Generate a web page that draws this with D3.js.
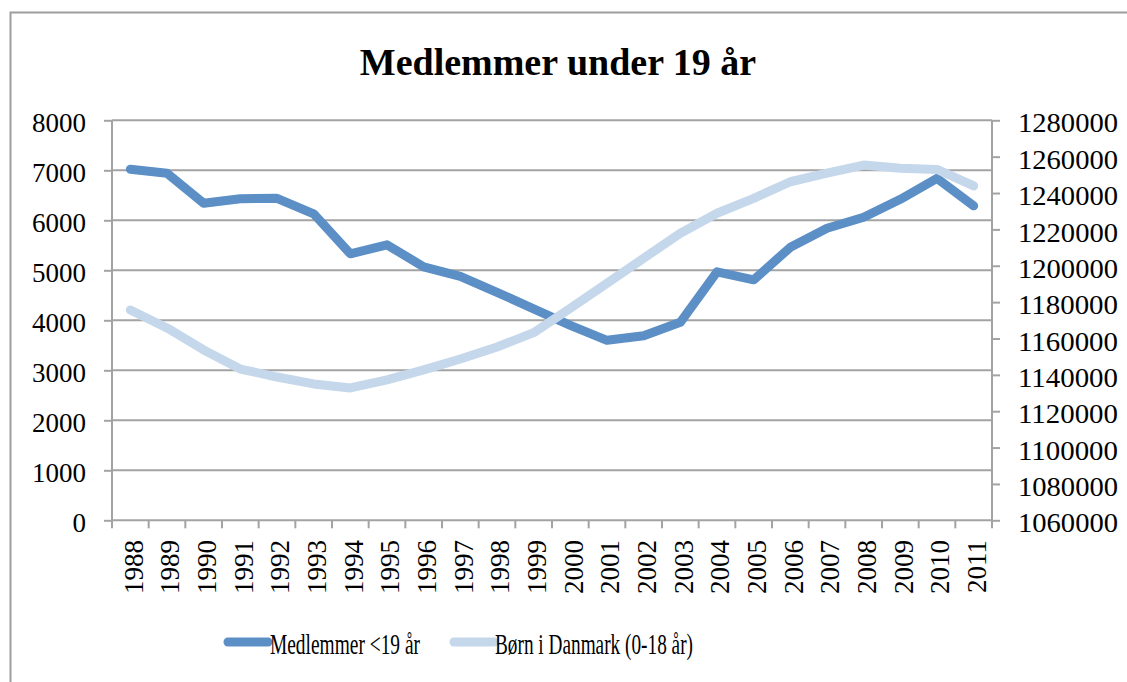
<!DOCTYPE html>
<html>
<head>
<meta charset="utf-8">
<script src="https://cdn.jsdelivr.net/npm/d3@7"></script>
<style>
  html, body { margin: 0; padding: 0; background: #fff; }
  svg { display: block; }
</style>
</head>
<body>
<svg id="chart" width="1127" height="682"></svg>
<script>
// data
const years = [1988, 1989, 1990, 1991, 1992, 1993, 1994, 1995, 1996, 1997, 1998, 1999,
  2000, 2001, 2002, 2003, 2004, 2005, 2006, 2007, 2008, 2009, 2010, 2011];
const members = [7020, 6940, 6340, 6430, 6440, 6130, 5330, 5510, 5070, 4880, 4560, 4230,
  3900, 3600, 3690, 3960, 4970, 4810, 5460, 5840, 6060, 6420, 6840, 6290];
const children = [1175700, 1165800, 1153700, 1143200, 1138800, 1135000, 1132800, 1137200,
  1142700, 1148700, 1155300, 1163200, 1176600, 1190400, 1204100, 1217900, 1228900,
  1237100, 1246200, 1250900, 1255400, 1253600, 1253000, 1243900];
const leftTicks = [0, 1000, 2000, 3000, 4000, 5000, 6000, 7000, 8000];
const rightTicks = [1060000, 1080000, 1100000, 1120000, 1140000, 1160000, 1180000,
  1200000, 1220000, 1240000, 1260000, 1280000];
const seriesNames = ["Medlemmer <19 år", "Børn i Danmark (0-18 år)"];

const font = "'Liberation Serif', serif";
const gridColor = "#a3a3a3";
const darkBlue = "#5b8fc6";
const lightBlue = "#c4d7eb";

const svg = d3.select("#chart");

// outer frame (runs off the right and bottom edges)
svg.append("rect")
  .attr("x", 10.5).attr("y", 12.5)
  .attr("width", 1130).attr("height", 690)
  .attr("fill", "none")
  .attr("stroke", "#9d9d9d")
  .attr("stroke-width", 2);

const plotLeft = 112, plotRight = 992, plotTop = 120.3, plotBottom = 520.3;

const x = d3.scaleBand().domain(years).range([plotLeft, plotRight]);
const yL = d3.scaleLinear().domain([0, 8000]).range([plotBottom, plotTop]);
const yR = d3.scaleLinear().domain([1060000, 1280000]).range([plotBottom, plotTop]);

// title
svg.append("text")
  .attr("x", 558).attr("y", 75)
  .attr("text-anchor", "middle")
  .attr("font-family", font)
  .attr("font-weight", "bold")
  .attr("font-size", 38)
  .text("Medlemmer under 19 år");

// gridlines
svg.append("g")
  .selectAll("line")
  .data(leftTicks.filter((d) => d > 0))
  .join("line")
  .attr("x1", plotLeft).attr("x2", plotRight)
  .attr("y1", (d) => yL(d)).attr("y2", (d) => yL(d))
  .attr("stroke", gridColor)
  .attr("stroke-width", 2);

// left axis
const gL = svg.append("g")
  .attr("transform", `translate(${plotLeft},0)`)
  .call(d3.axisLeft(yL).tickValues(leftTicks).tickSize(8).tickPadding(18).tickFormat(d3.format("d")));

// right axis
const gR = svg.append("g")
  .attr("transform", `translate(${plotRight},0)`)
  .call(d3.axisRight(yR).tickValues(rightTicks).tickSize(8).tickPadding(18).tickFormat(d3.format("d")));

[gL, gR].forEach((g) => {
  g.attr("font-family", font).attr("font-size", 27);
  g.select(".domain").attr("stroke", gridColor).attr("stroke-width", 2)
    .attr("d", `M0,${plotTop}V${plotBottom}`);
  g.selectAll(".tick line").attr("stroke", gridColor).attr("stroke-width", 2);
  g.selectAll(".tick text")
    .attr("fill", "#000")
    .attr("dy", "0.43em");
});
gR.selectAll(".tick text").attr("textLength", 100).attr("lengthAdjust", "spacingAndGlyphs");

// bottom axis: ticks at band edges
const xAxis = svg.append("g");
xAxis.append("line")
  .attr("x1", plotLeft).attr("x2", plotRight)
  .attr("y1", plotBottom).attr("y2", plotBottom)
  .attr("stroke", gridColor).attr("stroke-width", 2);
xAxis.selectAll("line.edge")
  .data(years.map((d) => x(d)).concat([plotRight]))
  .join("line")
  .attr("class", "edge")
  .attr("x1", (d) => d).attr("x2", (d) => d)
  .attr("y1", plotBottom).attr("y2", plotBottom + 8)
  .attr("stroke", gridColor).attr("stroke-width", 2);
xAxis.selectAll("text")
  .data(years)
  .join("text")
  .attr("transform", (d) => `translate(${x(d) + x.bandwidth() / 2 + 3},540) rotate(-90)`)
  .attr("text-anchor", "end")
  .attr("dy", "0.35em")
  .attr("font-family", font)
  .attr("font-size", 27)
  .text((d) => d);

// lines
const cx = (d, i) => x(years[i]) + x.bandwidth() / 2;

svg.append("path")
  .datum(members)
  .attr("fill", "none")
  .attr("stroke", darkBlue)
  .attr("stroke-width", 9)
  .attr("stroke-linejoin", "round")
  .attr("stroke-linecap", "round")
  .attr("d", d3.line().x(cx).y((d) => yL(d)));

svg.append("path")
  .datum(children)
  .attr("fill", "none")
  .attr("stroke", lightBlue)
  .attr("stroke-width", 9)
  .attr("stroke-linejoin", "round")
  .attr("stroke-linecap", "round")
  .attr("d", d3.line().x(cx).y((d) => yR(d)));

// legend
const legendItems = [
  { name: seriesNames[0], color: darkBlue, x0: 228, x1: 268, tx: 270, len: 150 },
  { name: seriesNames[1], color: lightBlue, x0: 454, x1: 494, tx: 495, len: 198 }
];
const legend = svg.append("g")
  .selectAll("g")
  .data(legendItems)
  .join("g");
legend.append("line")
  .attr("x1", (d) => d.x0).attr("x2", (d) => d.x1)
  .attr("y1", 642).attr("y2", 642)
  .attr("stroke", (d) => d.color)
  .attr("stroke-width", 9)
  .attr("stroke-linecap", "round");
legend.append("text")
  .attr("x", (d) => d.tx)
  .attr("y", 654)
  .attr("font-family", font)
  .attr("font-size", 29)
  .attr("textLength", (d) => d.len)
  .attr("lengthAdjust", "spacingAndGlyphs")
  .text((d) => d.name);
</script>
</body>
</html>
